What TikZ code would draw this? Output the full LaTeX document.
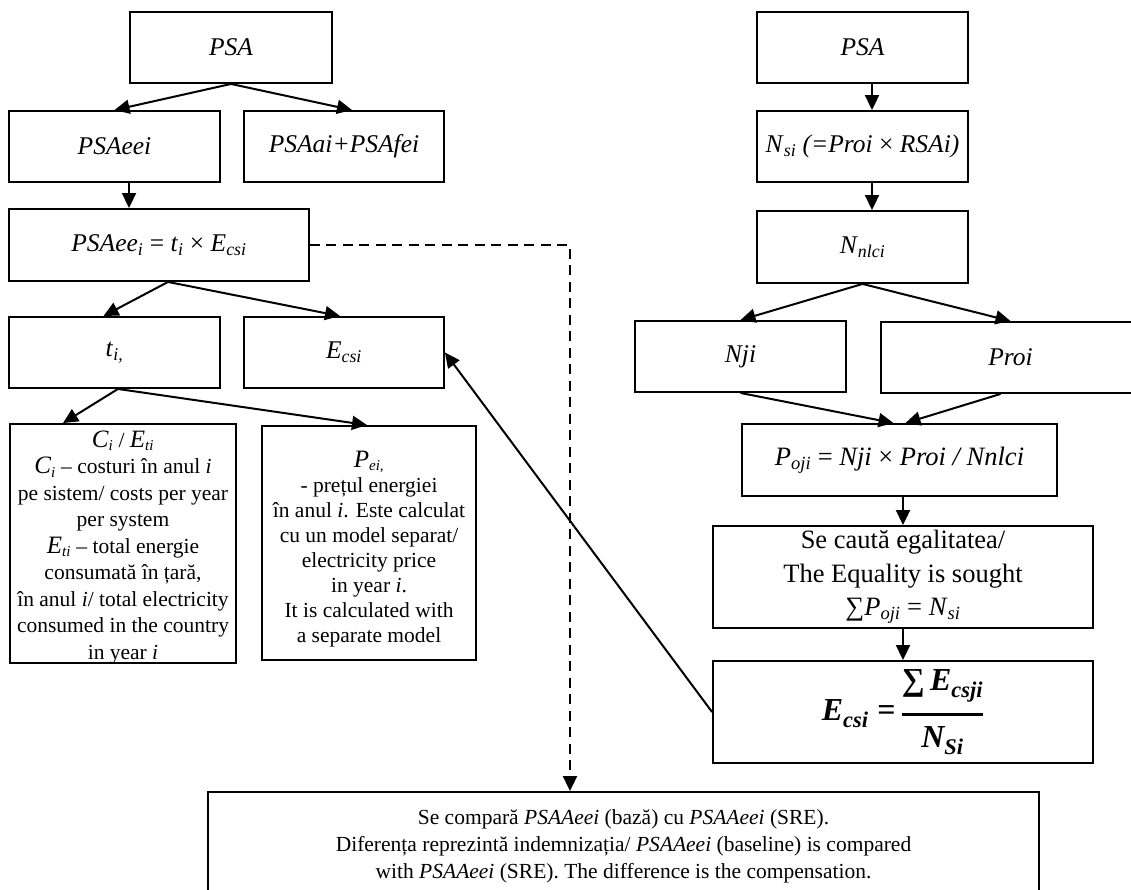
\documentclass[tikz,border=0pt]{standalone}
\usepackage{fontspec}
\setmainfont{Liberation Serif}
\usepackage{amsmath}
\usetikzlibrary{arrows.meta,calc}
\newcommand{\isub}[1]{\textsubscript{\itshape #1}}
\newcommand{\bigI}[1]{{\fontsize{25}{27}\selectfont\itshape #1}}
\newcommand{\fsym}[1]{\mbox{\fontsize{32}{34}\selectfont\bfseries\itshape #1}}
\begin{document}
\begin{tikzpicture}[x=1pt,y=-1pt,
  bx/.style={draw, line width=1.9pt, align=center, inner sep=2pt, font=\fontsize{25.5}{28}\selectfont},
  rbx/.style={bx, font=\fontsize{25.5}{30}\selectfont},
  txt/.style={align=center, inner sep=0pt, font=\fontsize{21.5}{26.5}\selectfont},
  arr/.style={line width=2pt, -{Triangle[length=15pt,width=14pt]}},
  dsh/.style={line width=2pt, dash pattern=on 10pt off 6.5pt, -{Triangle[length=15pt,width=14pt]}}]
\fill[white] (0,0) rectangle (1131,890);
\useasboundingbox (0,0) rectangle (1131,890);
% left column
\node[bx, minimum width=202pt, minimum height=71pt] (lpsa) at (231,47.5) {\textit{PSA}};
\node[bx, minimum width=211pt, minimum height=71pt] (lpsaeei) at (114.5,146.5) {\textit{PSAeei}};
\node[bx, minimum width=200pt, minimum height=71pt] (lpsaai) at (344,146.5) {\textit{PSAai+PSAfei}};
\node[bx, minimum width=300pt, minimum height=72pt] (lpsaee) at (159,245) {\textit{PSAee}\isub{i} = \textit{t}\isub{i} × \textit{E}\isub{csi}};
\node[bx, minimum width=211pt, minimum height=71pt] (lti) at (114.5,352.5) {\textit{t}\isub{i,}};
\node[bx, minimum width=200pt, minimum height=71pt] (lecsi) at (344,352.5) {\textit{E}\isub{csi}};
\node[bx, minimum width=226pt, minimum height=239pt] (lci) at (123,543.5) {};
\node[txt] (lcit) at ([yshift=-4pt]lci.center) {\bigI{C}\isub{i} / \bigI{E}\isub{ti}\\
\bigI{C}\isub{i} – costuri în anul \textit{i}\\
pe sistem/ costs per year\\
per system\\
\bigI{E}\isub{ti} – total energie\\
consumată în țară,\\
în anul \textit{i}/ total electricity\\
consumed in the country\\
in year \textit{i}};
\node[bx, minimum width=214pt, minimum height=234pt] (lpei) at (369,543) {};
\node[txt, font=\fontsize{21.5}{25}\selectfont] (lpeit) at ([yshift=-6pt]lpei.center) {\bigI{P}\isub{ei,}\\
- prețul energiei\\
în anul \textit{i}. Este calculat\\
cu un model separat/\\
electricity price\\
in year \textit{i}.\\
It is calculated with\\
a separate model};
% right column
\node[rbx, minimum width=211pt, minimum height=71pt] (rpsa) at (862.5,47.5) {\textit{PSA}};
\node[rbx, minimum width=211pt, minimum height=71pt] (rnsi) at (862.5,146.5) {\textit{N}\isub{si} \textit{(=Proi} × \textit{RSAi)}};
\node[rbx, minimum width=211pt, minimum height=72pt] (rnnlci) at (862.5,247) {\textit{N}\isub{nlci}};
\node[rbx, minimum width=211pt, minimum height=71pt] (rnji) at (740.5,356.5) {\textit{Nji}};
\node[rbx, minimum width=259pt, minimum height=71pt] (rproi) at (1010.5,357.5) {\textit{Proi}};
\node[rbx, minimum width=315pt, minimum height=72pt, font=\fontsize{26.5}{30}\selectfont] (rpoji) at (899.5,460) {\textit{P}\isub{oji} = \textit{Nji} × \textit{Proi / Nnlci}};
\node[rbx, minimum width=380pt, minimum height=102pt, font=\fontsize{26.5}{33.5}\selectfont] (rsec) at (903,577) {Se caută egalitatea/\\The Equality is sought\\∑\textit{P}\isub{oji} = \textit{N}\isub{si}};
\node[bx, minimum width=380pt, minimum height=102pt] (recsi) at (903,712) {\fsym{E\textsubscript{csi}}\hspace{0.35em}\fsym{\upshape =}\hspace{0.2em}$\genfrac{}{}{3.5pt}{0}{\fsym{∑\,E\textsubscript{csji}}}{\fsym{N\textsubscript{Si}}}$};
% bottom
\node[bx, font=\fontsize{21.5}{27}\selectfont, minimum width=831pt, minimum height=108pt] (bottom) at (623.5,846) {Se compară \textit{PSAAeei} (bază) cu \textit{PSAAeei} (SRE).\\
Diferența reprezintă indemnizația/ \textit{PSAAeei} (baseline) is compared\\
with \textit{PSAAeei} (SRE). The difference is the compensation.};
% connectors left
\draw[arr] (lpsa.south) -- (lpsaeei.north);
\draw[arr] (lpsa.south) -- ([xshift=8pt]lpsaai.north);
\coordinate (a1) at ([xshift=14.5pt]lpsaeei.south);
\draw[arr] (a1) -- (a1 |- lpsaee.north);
\draw[arr] ([xshift=9pt]lpsaee.south) -- ([xshift=-11pt]lti.north);
\draw[arr] ([xshift=9pt]lpsaee.south) -- ([xshift=-4pt]lecsi.north);
\draw[arr] ([xshift=3.5pt]lti.south) -- ([xshift=-60pt]lci.north);
\draw[arr] ([xshift=3.5pt]lti.south) -- ([xshift=-2pt]lpei.north);
\draw[arr] (recsi.west) -- (lecsi.east);
\coordinate (dc) at (570,245);
\draw[dsh] (lpsaee.east) -- (dc) -- (dc |- bottom.north);
% connectors right
\coordinate (r1) at ([xshift=9.5pt]rpsa.south);
\draw[arr] (r1) -- (r1 |- rnsi.north);
\coordinate (r2) at ([xshift=9.5pt]rnsi.south);
\draw[arr] (r2) -- (r2 |- rnnlci.north);
\draw[arr] (rnnlci.south) -- (rnji.north);
\draw[arr] (rnnlci.south) -- (rproi.north);
\draw[arr] (rnji.south) -- ([xshift=-6pt]rpoji.north);
\draw[arr] ([xshift=-10pt]rproi.south) -- ([xshift=6pt]rpoji.north);
\coordinate (r3) at (rsec.north |- rpoji.south);
\draw[arr] (r3) -- (rsec.north);
\draw[arr] (rsec.south) -- (recsi.north);
\end{tikzpicture}
\end{document}
